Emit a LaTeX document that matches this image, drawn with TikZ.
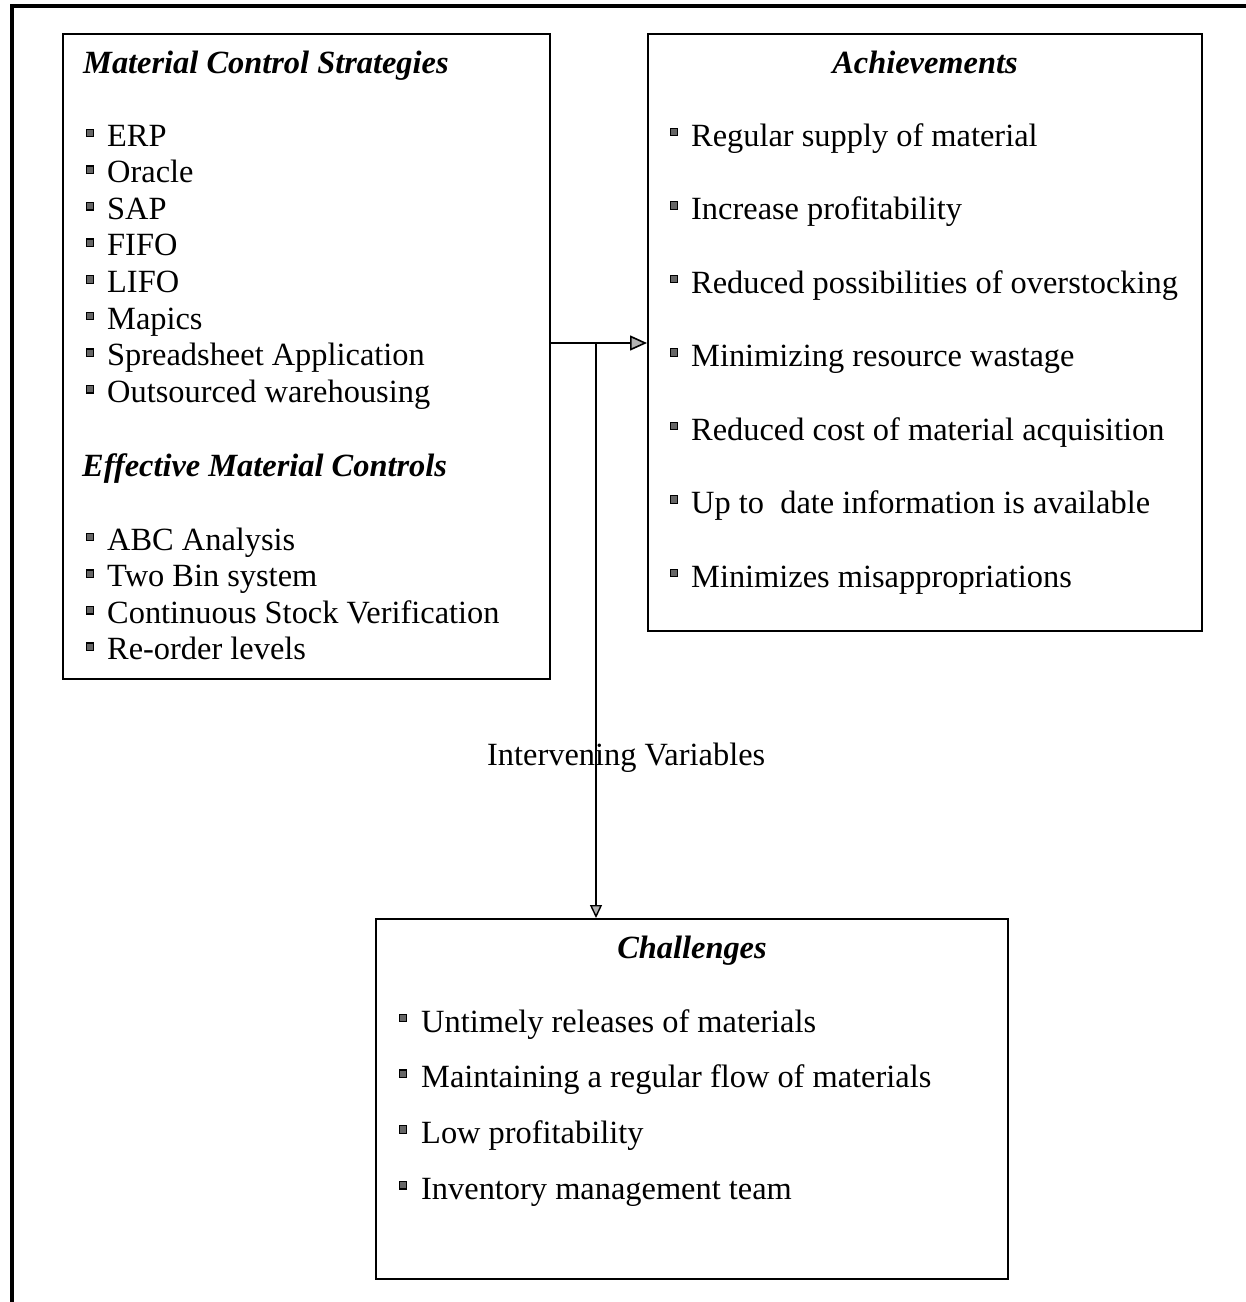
\documentclass[tikz,border=0pt]{standalone}
\usepackage{fontspec}
\setmainfont{Liberation Serif}
\usetikzlibrary{arrows.meta}
\begin{document}
\begin{tikzpicture}[x=1pt,y=-1pt,
  box/.style={draw,line width=2.2pt,anchor=north west,inner sep=0pt},
  txt/.style={anchor=base west,inner sep=0pt,font=\fontsize{32.4}{38}\selectfont},
  head/.style={anchor=base west,inner sep=0pt,font=\fontsize{32.4}{38}\selectfont\bfseries\itshape},
  headc/.style={anchor=base,inner sep=0pt,font=\fontsize{32.4}{38}\selectfont\bfseries\itshape},
  bul/.style={draw=black,fill=gray!80!black,line width=1.3pt,minimum size=7.5pt,inner sep=0pt},
  arr/.style={line width=2.2pt,-{Triangle[length=17pt,width=15pt,fill=gray!60,line width=1.6pt]}},
  arrd/.style={line width=2.2pt,-{Triangle[length=13pt,width=12pt,fill=gray!60,line width=1.4pt]}}]
\useasboundingbox (0,0) rectangle (1246,1302);
% outer frame (only top and left visible)
\draw[line width=3.5pt] (12,1302) -- (12,6) -- (1246,6);
% boxes
\node[box,minimum width=487pt,minimum height=645pt] (mcs) at (62,33) {};
\node[box,minimum width=554pt,minimum height=597pt] (ach) at (647,33) {};
\node[box,minimum width=632pt,minimum height=360pt] (chal) at (375,918) {};
% left box texts
\node[head] (h1) at (83,73) {Material Control Strategies};
\foreach \t [count=\i] in {ERP,Oracle,SAP,FIFO,LIFO,Mapics,Spreadsheet Application,Outsourced warehousing}{
  \node[txt] (l\i) at (107,{146+36.6*(\i-1)}) {\t};
  \node[bul] (lb\i) at (90,{133+36.6*(\i-1)}) {};
}
\node[head] (h2) at (82,476) {Effective Material Controls};
\foreach \t [count=\i] in {ABC Analysis,Two Bin system,Continuous Stock Verification,Re-order levels}{
  \node[txt] (e\i) at (107,{550+36.6*(\i-1)}) {\t};
  \node[bul] (eb\i) at (90,{537+36.6*(\i-1)}) {};
}
% right box texts
\node[headc] (h3) at (925,73) {Achievements};
\foreach \t [count=\i] in {Regular supply of material,Increase profitability,Reduced possibilities of overstocking,Minimizing resource wastage,Reduced cost of material acquisition,Up to\ \ date information is available,Minimizes misappropriations}{
  \node[txt] (a\i) at (691,{146+73.5*(\i-1)}) {\t};
  \node[bul] (ab\i) at (674,{132+73.5*(\i-1)}) {};
}
% bottom box texts
\node[headc] (h4) at (692,958) {Challenges};
\foreach \t [count=\i] in {Untimely releases of materials,Maintaining a regular flow of materials,Low profitability,Inventory management team}{
  \node[txt] (c\i) at (421,{1032+55.7*(\i-1)}) {\t};
  \node[bul] (cb\i) at (403,{1018+55.7*(\i-1)}) {};
}
% connectors
\coordinate (J) at (596,343);
\draw[arr] (J -| mcs.east) -- (J -| ach.west);
\draw[arrd] (J) -- (J |- chal.north);
\node[txt] (iv) at (487,765) {Intervening Variables};
\end{tikzpicture}
\end{document}
